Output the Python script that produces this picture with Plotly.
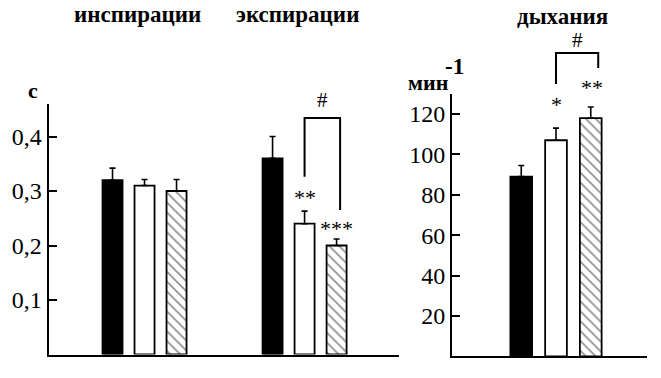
import plotly.graph_objects as go

# ---------------- data ----------------
groups_left = ["инспирации", "экспирации"]
ctrl_left = [0.32, 0.36]
ctrl_left_err = [0.022, 0.04]
open_left = [0.31, 0.24]
open_left_err = [0.011, 0.023]
hatch_left = [0.30, 0.20]
hatch_left_err = [0.021, 0.012]
open_left_sig = ["", "**"]
hatch_left_sig = ["", "***"]

title_right = "дыхания"
rate = [89, 107, 118]
rate_err = [5.5, 6, 5.5]
rate_sig = ["", "*", "**"]

left_tickvals = [0.1, 0.2, 0.3, 0.4]
left_ticktext = ["0,1", "0,2", "0,3", "0,4"]
right_tickvals = [20, 40, 60, 80, 100, 120]
right_ticktext = ["20", "40", "60", "80", "100", "120"]
left_unit = "с"
right_unit = "мин"
right_unit_exp = "-1"

# bracket heights (data units): left-leg bottom, top, right-leg bottom
bracket_left_y = [0.326, 0.434, 0.265]
bracket_right_y = [134.9, 150.2, 142.8]

# ---------------- geometry / style ----------------
W, H = 661, 378
SERIF = "Liberation Serif"
BAR_W = 0.125
SLOT = 0.2
offsets = [-SLOT - BAR_W / 2, -BAR_W / 2, SLOT - BAR_W / 2]

xr1 = [-0.6, 1.59]
xd1 = [48.5 / W, 399 / W]
yr1 = [0, 0.46]
y1_base = 354.5
y1_top = y1_base - 0.46 * 545
yd1 = [1 - y1_base / H, 1 - y1_top / H]

xr2 = [-0.5986, 0.5237]
xd2 = [452 / W, 647 / W]
yr2 = [0, 130]
y2_base = 356.4
y2_top = y2_base - 130 * 2.02
yd2 = [1 - y2_base / H, 1 - y2_top / H]


def px_x(v, xr, xd):
    return (xd[0] + (v - xr[0]) / (xr[1] - xr[0]) * (xd[1] - xd[0])) * W


def px_y(v, yr, yd):
    return (1 - (yd[0] + (v - yr[0]) / (yr[1] - yr[0]) * (yd[1] - yd[0]))) * H


fig = go.Figure()

bar_styles = [
    dict(color="black", line=dict(color="black", width=1.8)),
    dict(color="white", line=dict(color="black", width=1.8)),
    dict(color="white", line=dict(color="black", width=1.8),
         pattern=dict(shape="\\", fgcolor="black", bgcolor="white", size=7, solidity=0.22)),
]

left_series = [(ctrl_left, ctrl_left_err), (open_left, open_left_err), (hatch_left, hatch_left_err)]
xs_left = list(range(len(groups_left)))
for k, (vals, errs) in enumerate(left_series):
    fig.add_trace(go.Bar(
        x=xs_left, y=vals, width=BAR_W, offset=offsets[k],
        marker=bar_styles[k], xaxis="x", yaxis="y", showlegend=False, hoverinfo="skip",
        error_y=dict(type="data", array=errs, arrayminus=[0] * len(errs), symmetric=False,
                     color="black", thickness=1.6, width=3),
    ))

for k in range(len(rate)):
    fig.add_trace(go.Bar(
        x=[0], y=[rate[k]], width=BAR_W, offset=offsets[k],
        marker=bar_styles[k], xaxis="x2", yaxis="y2", showlegend=False, hoverinfo="skip",
        error_y=dict(type="data", array=[rate_err[k]], arrayminus=[0], symmetric=False,
                     color="black", thickness=1.6, width=3),
    ))

axis_common = dict(showgrid=False, zeroline=False, showline=True, linecolor="black",
                   linewidth=2, mirror=False, fixedrange=True)
tickfont = dict(family=SERIF, size=24, color="black")
fig.update_layout(
    width=W, height=H,
    margin=dict(l=0, r=0, t=0, b=0),
    paper_bgcolor="white", plot_bgcolor="white",
    font=dict(family=SERIF, color="black"),
    barmode="overlay",
    xaxis=dict(domain=xd1, range=xr1, showticklabels=False, ticks="", **axis_common),
    yaxis=dict(domain=yd1, range=yr1, tickvals=left_tickvals, ticktext=left_ticktext,
               ticks="inside", ticklen=8, tickwidth=1.5, tickcolor="black",
               tickfont=tickfont, anchor="x", **axis_common),
    xaxis2=dict(domain=xd2, range=xr2, showticklabels=False, ticks="", anchor="y2",
                **axis_common),
    yaxis2=dict(domain=yd2, range=yr2, tickvals=right_tickvals, ticktext=right_ticktext,
                ticks="inside", ticklen=8, tickwidth=1.5, tickcolor="black",
                tickfont=tickfont, anchor="x2", **axis_common),
)

annotations = []


def add_text(text, xpx, ypx, size, bold=False):
    annotations.append(dict(
        text=("<b>%s</b>" % text) if bold else text,
        x=xpx / W, y=1 - ypx / H, xref="paper", yref="paper",
        xanchor="center", yanchor="middle", showarrow=False,
        font=dict(family=SERIF, size=size, color="black"),
    ))


# titles
for g, name in enumerate(groups_left):
    add_text(name, px_x(g, xr1, xd1) - 7, 15, 23, bold=True)
add_text(title_right, px_x(0, xr2, xd2) + 6, 16, 23, bold=True)

# unit labels
add_text(left_unit, 33, 90, 22, bold=True)
add_text(right_unit, 428, 82, 22, bold=True)
add_text(right_unit_exp, 455, 67, 23, bold=True)

# significance stars
star_gap_left = [18, 14]
for g in range(len(groups_left)):
    for k, (sig, vals, errs) in enumerate([(open_left_sig, open_left, open_left_err),
                                            (hatch_left_sig, hatch_left, hatch_left_err)]):
        if sig[g]:
            xc = px_x(g + offsets[k + 1] + BAR_W / 2, xr1, xd1)
            yt = px_y(vals[g] + errs[g], yr1, yd1)
            add_text(sig[g], xc, yt - star_gap_left[k] + 4, 22)

star_gap_right = [0, 28, 23]
for k in range(len(rate)):
    if rate_sig[k]:
        xc = px_x(offsets[k] + BAR_W / 2, xr2, xd2)
        yt = px_y(rate[k] + rate_err[k], yr2, yd2)
        add_text(rate_sig[k], xc + (1 if k == 2 else 0), yt - star_gap_right[k] + 4, 22)

shapes = []


def bracket(xl, xr_, ys, yr, yd, xrng, xdom):
    x0 = px_x(xl, xrng, xdom) / W
    x1 = px_x(xr_, xrng, xdom) / W
    yb0 = 1 - px_y(ys[0], yr, yd) / H
    ytop = 1 - px_y(ys[1], yr, yd) / H
    yb1 = 1 - px_y(ys[2], yr, yd) / H
    shapes.append(dict(type="path", xref="paper", yref="paper",
                       path="M %f %f L %f %f L %f %f L %f %f" % (x0, yb0, x0, ytop, x1, ytop, x1, yb1),
                       line=dict(color="black", width=2)))
    return (x0 + x1) / 2 * W, px_y(ys[1], yr, yd)


bx, by = bracket(1 + offsets[1] + BAR_W / 2, 1 + offsets[2] + BAR_W / 2 + 0.022,
                 bracket_left_y, yr1, yd1, xr1, xd1)
add_text("#", bx, by - 18, 21)
bx, by = bracket(offsets[1] + BAR_W / 2, offsets[2] + BAR_W / 2 + 0.043,
                 bracket_right_y, yr2, yd2, xr2, xd2)
add_text("#", bx, by - 13, 21)

fig.update_layout(annotations=annotations, shapes=shapes)
fig.write_html("out.html", config={"displayModeBar": False},
               post_script="document.body.style.margin='0';document.body.style.padding='0';")
